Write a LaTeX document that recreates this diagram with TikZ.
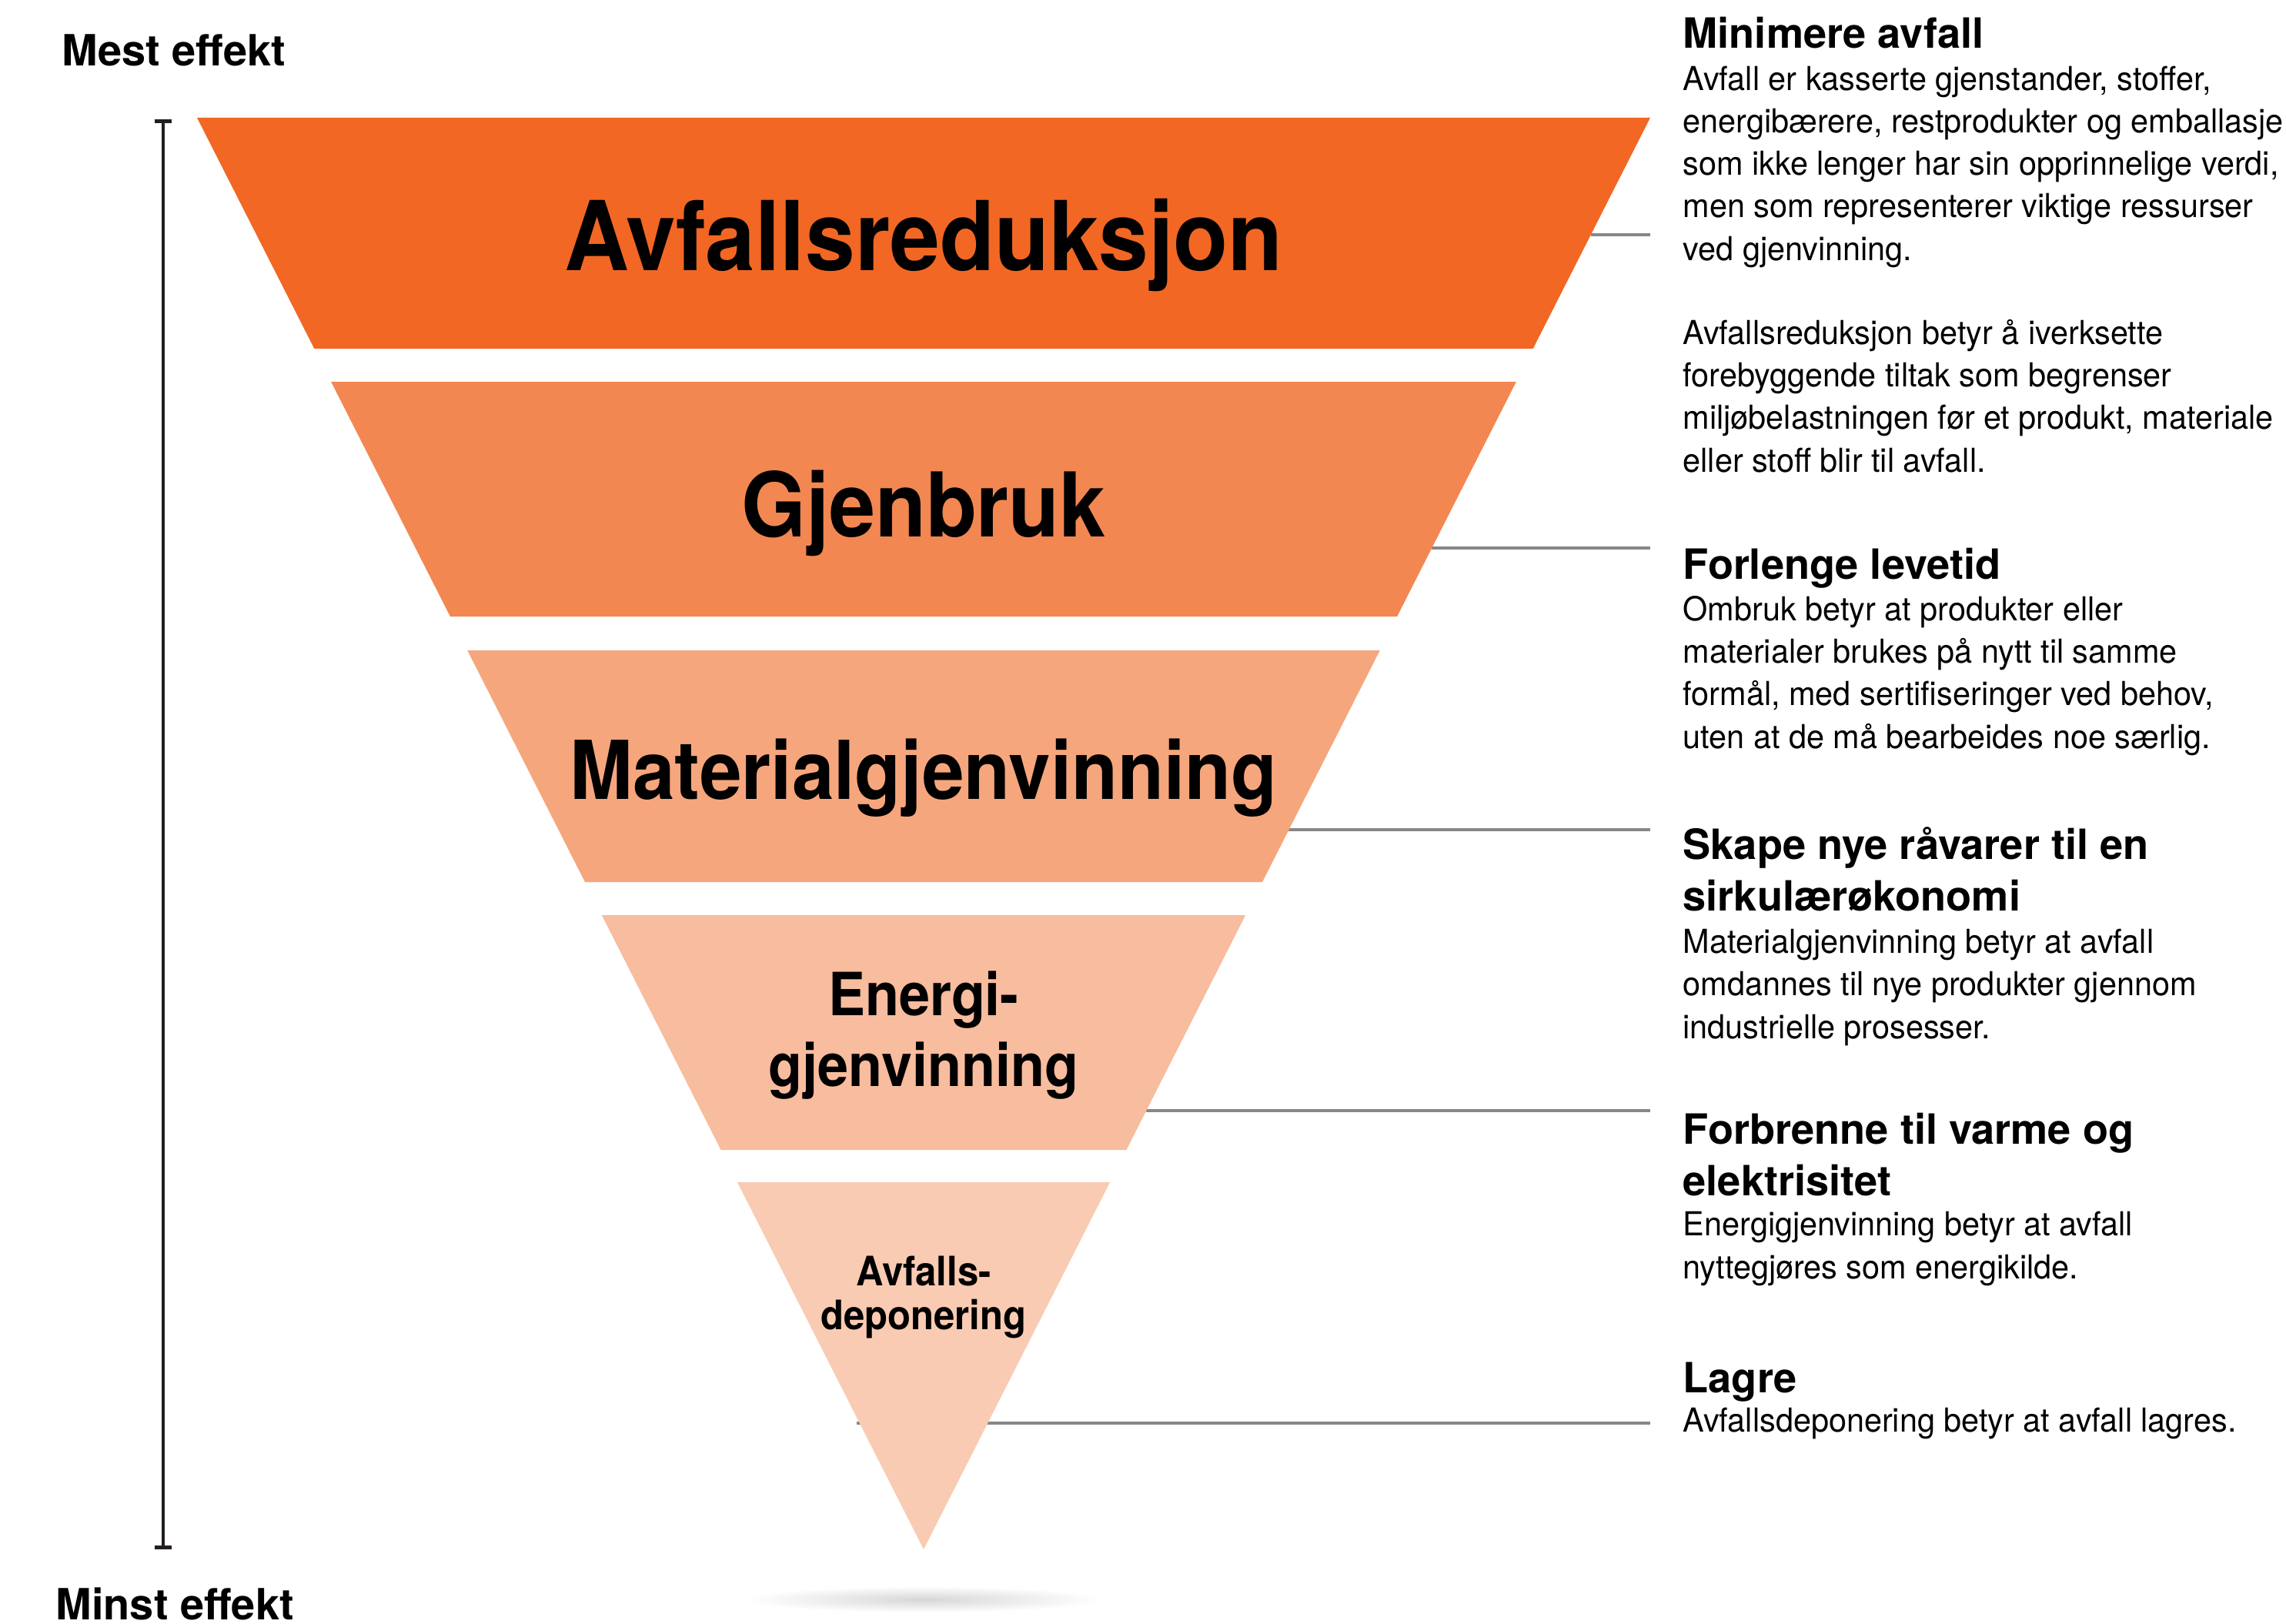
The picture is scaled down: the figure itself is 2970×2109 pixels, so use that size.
\documentclass[tikz,border=0pt]{standalone}
\usepackage{fontspec}
\setmainfont{TeX Gyre Heros}
\newfontfamily\bodyfont[FakeStretch=0.965]{TeX Gyre Heros}
\newfontfamily\labelfont[FakeStretch=0.93]{TeX Gyre Heros}
\usetikzlibrary{arrows.meta}

\definecolor{bandA}{HTML}{F26724}
\definecolor{bandB}{HTML}{F38752}
\definecolor{bandC}{HTML}{F6A67C}
\definecolor{bandD}{HTML}{F8BC9E}
\definecolor{bandE}{HTML}{F9CBB3}
\definecolor{leadgray}{HTML}{878787}
\definecolor{bardark}{HTML}{231F20}

\tikzset{
  head/.style={anchor=base west,inner sep=0pt,align=left,font=\bfseries\fontsize{15.4}{18.8}\selectfont},
  body/.style={anchor=base west,inner sep=0pt,align=left,font=\bodyfont\fontsize{12.2}{15.65}\selectfont},
  bandlabel/.style={anchor=base,inner sep=0pt,align=center,font=\labelfont\bfseries},
  effect/.style={anchor=base west,inner sep=0pt,font=\bfseries\fontsize{15.9}{19}\selectfont},
  leader/.style={draw=leadgray,line width=1.15pt},
  effectbar/.style={draw=bardark,line width=1pt,{Bar[width=6.3pt,line width=1.4pt]}-{Bar[width=6.3pt,line width=1.4pt]}}
}

\begin{document}
\begin{tikzpicture}[x=0.01cm,y=-0.01cm]
  \useasboundingbox (0,0) rectangle (2970,2109);
  % effect scale
  \node[effect] (mest) at (80,86) {Mest effekt};
  \node[effect] (minst) at (72,2104) {Minst effekt};
  \coordinate (bartop) at (212,155);
  \coordinate (barbot) at (212,2013);
  \draw[effectbar] (bartop) -- (barbot);
  % shadow under the tip
  \shade[inner color=black!16,outer color=white] (1200,2078) ellipse [x radius=2.3cm,y radius=0.17cm];
  % leader lines
  \foreach \y/\xa [count=\i] in {305/2067, 712/1860, 1078/1674, 1443/1489, 1849/1113} {
    \coordinate (l\i) at (\xa,\y);
    \coordinate (r\i) at (2144,\y);
    \draw[leader] (l\i) -- (r\i);
  }
  % pyramid bands
  \foreach \t/\b/\c in {153/453/bandA, 496/801/bandB, 845/1146/bandC, 1189/1494/bandD, 1536/2013/bandE}
    \fill[\c] ({1200-0.5075*(2013-\t)},\t) -- ({1200+0.5075*(2013-\t)},\t)
      -- ({1200+0.5075*(2013-\b)},\b) -- ({1200-0.5075*(2013-\b)},\b) -- cycle;
  \node[bandlabel,font=\labelfont\bfseries\fontsize{35.6}{40}\selectfont] (reduksjon) at (1200,351) {Avfallsreduksjon};
  \node[bandlabel,font=\labelfont\bfseries\fontsize{33}{40}\selectfont] (gjenbruk) at (1200,697) {Gjenbruk};
  \node[bandlabel,font=\labelfont\bfseries\fontsize{30}{36}\selectfont] (material) at (1200,1038) {Materialgjenvinning};
  \node[bandlabel,font=\labelfont\bfseries\fontsize{22}{25.9}\selectfont] (energi) at (1200,1411) {Energi-\\gjenvinning};
  \node[bandlabel,font=\labelfont\bfseries\fontsize{15}{16.2}\selectfont] (deponi) at (1200,1727) {Avfalls-\\deponering};
  % descriptions (a node's base is its last line)
  \node[head] (h1) at (2186,63) {Minimere avfall};
  \node[body] (b1) at (2186,338) {Avfall er kasserte gjenstander, stoffer,\\energibærere, restprodukter og emballasje\\som ikke lenger har sin opprinnelige verdi,\\men som representerer viktige ressurser\\ved gjenvinning.};
  \node[body] (b1b) at (2186,613) {Avfallsreduksjon betyr å iverksette\\forebyggende tiltak som begrenser\\miljøbelastningen før et produkt, materiale\\eller stoff blir til avfall.};
  \node[head] (h2) at (2186,752) {Forlenge levetid};
  \node[body] (b2) at (2186,972) {Ombruk betyr at produkter eller\\materialer brukes på nytt til samme\\formål, med sertifiseringer ved behov,\\uten at de må bearbeides noe særlig.};
  \node[head] (h3) at (2186,1183) {Skape nye råvarer til en\\sirkulærøkonomi};
  \node[body] (b3) at (2186,1349) {Materialgjenvinning betyr at avfall\\omdannes til nye produkter gjennom\\industrielle prosesser.};
  \node[head] (h4) at (2186,1553) {Forbrenne til varme og\\elektrisitet};
  \node[body] (b4) at (2186,1661) {Energigjenvinning betyr at avfall\\nyttegjøres som energikilde.};
  \node[head] (h5) at (2186,1809) {Lagre};
  \node[body] (b5) at (2186,1860) {Avfallsdeponering betyr at avfall lagres.};
\end{tikzpicture}
\end{document}
